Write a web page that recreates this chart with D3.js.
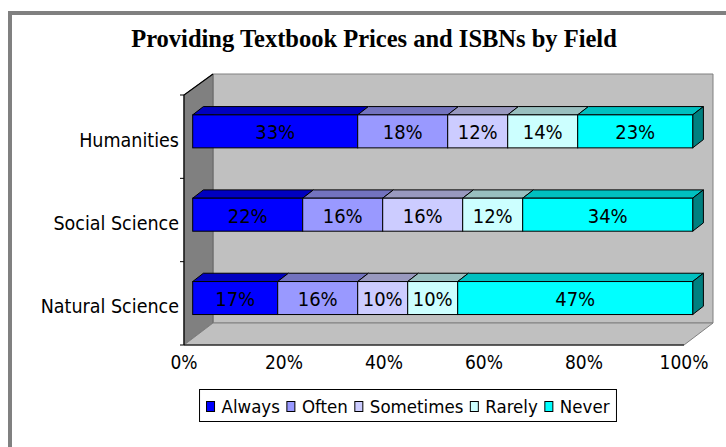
<!DOCTYPE html>
<html><head><meta charset="utf-8">
<script src="https://cdn.jsdelivr.net/npm/d3@7"></script>
<style>
html,body{margin:0;padding:0;background:#fff;}
svg{display:block;}
.sans{font-family:"DejaVu Sans Condensed","DejaVu Sans",sans-serif;font-stretch:condensed;}
</style></head>
<body>
<svg id="chart" width="726" height="447"></svg>
<script>
const title = "Providing Textbook Prices and ISBNs by Field";
const categories = ["Humanities", "Social Science", "Natural Science"];
const seriesNames = ["Always", "Often", "Sometimes", "Rarely", "Never"];
const always    = [33, 22, 17];
const often     = [18, 16, 16];
const sometimes = [12, 16, 10];
const rarely    = [14, 12, 10];
const never     = [23, 34, 47];
const tickValues = [0, 20, 40, 60, 80, 100];
const tickLabels = ["0%", "20%", "40%", "60%", "80%", "100%"];

const seriesValues = [always, often, sometimes, rarely, never];
const frontColors = ["#0000FF", "#9999FF", "#CCCCFF", "#CCFFFF", "#00FFFF"];
const topColors   = ["#0000C0", "#7373BF", "#9999BF", "#99BFBF", "#00C0C0"];
const sideColors  = ["#000080", "#4D4D80", "#666680", "#668080", "#008080"];

const svg = d3.select("#chart");

// outer chart frame (extends past image bottom/right)
svg.append("rect").attr("x", 10).attr("y", 13).attr("width", 760).attr("height", 480)
  .attr("fill", "#fff").attr("stroke", "#808080").attr("stroke-width", 4);

// title
svg.append("text").attr("x", 374).attr("y", 47).attr("text-anchor", "middle")
  .attr("font-family", "'Liberation Serif','Times New Roman',serif")
  .attr("font-weight", "bold").attr("font-size", 24.5).attr("fill", "#000").text(title);

// geometry of the 3D plot
const x0 = 184, x1 = 684, yTop = 95, yBot = 345;
const dX = 29, dY = 21;                 // wall depth
const bOffX = 8.7, bOffY = 5.3;         // bar front offset
const bDX = 10.7, bDY = 8.3;            // bar depth

const x = d3.scaleLinear().domain([0, 100]).range([x0, x1]);
const y = d3.scaleBand().domain(categories).range([yTop, yBot])
  .paddingInner(0.604).paddingOuter(0.302);

const line = d3.line();
// back wall
svg.append("path").attr("d", line([[x0+dX, yTop-dY], [x1+dX, yTop-dY], [x1+dX, yBot-dY-1], [x0+dX, yBot-dY-1]]) + "Z")
  .attr("fill", "#C0C0C0").attr("stroke", "#808080").attr("stroke-width", 1);
// left wall
svg.append("path").attr("d", line([[x0, yTop], [x0+dX, yTop-dY], [x0+dX, yBot-dY-1], [x0, yBot]]) + "Z")
  .attr("fill", "#808080").attr("stroke", "#666").attr("stroke-width", 1);
// floor
svg.append("path").attr("d", line([[x0, yBot], [x0+dX, yBot-dY-1], [x1+dX, yBot-dY-1], [x1, yBot]]) + "Z")
  .attr("fill", "#C0C0C0").attr("stroke", "#808080").attr("stroke-width", 1);
// black axis edges
svg.append("path").attr("d", line([[x0, yBot], [x0, yTop], [x0+dX, yTop-dY]]))
  .attr("fill", "none").attr("stroke", "#000").attr("stroke-width", 1.2);
svg.append("path").attr("d", line([[x0, yBot], [x1, yBot]]))
  .attr("fill", "none").attr("stroke", "#000").attr("stroke-width", 1.2);

// category ticks
svg.append("g").selectAll("line").data(d3.range(categories.length + 1).map(i => yTop + i * y.step())).join("line")
  .attr("x1", x0 - 4).attr("x2", x0).attr("y1", d => d).attr("y2", d => d)
  .attr("stroke", "#000").attr("stroke-width", 1);
// value tick labels
svg.append("g").attr("class", "sans").selectAll("text").data(tickValues).join("text")
  .attr("x", d => x(d)).attr("y", 369).attr("text-anchor", "middle")
  .attr("font-size", 19).attr("fill", "#000").text((d, i) => tickLabels[i]);

// category labels
svg.append("g").attr("class", "sans").selectAll("text").data(categories).join("text")
  .attr("x", x0 - 5).attr("y", d => y(d) + y.bandwidth() / 2 + 10).attr("text-anchor", "end")
  .attr("font-size", 19.5).attr("fill", "#000").text(d => d);

// stacked bars
const rows = categories.map((c, i) => {
  const obj = { cat: c };
  seriesNames.forEach((s, k) => obj[s] = seriesValues[k][i]);
  return obj;
});
const stack = d3.stack().keys(seriesNames)(rows);

const barsG = svg.append("g");
categories.forEach((c, ci) => {
  const yf = y(c) - bOffY, hb = y.bandwidth();
  stack.forEach((layer, k) => {
    const d = layer[ci];
    const xa = x(d[0]) + bOffX, xb = x(d[1]) + bOffX;
    barsG.append("path").attr("d", line([[xa, yf], [xb, yf], [xb + bDX, yf - bDY], [xa + bDX, yf - bDY]]) + "Z")
      .attr("fill", topColors[k]).attr("stroke", "#000").attr("stroke-width", 1).attr("stroke-linejoin", "round");
    if (k === seriesNames.length - 1) {
      barsG.append("path").attr("d", line([[xb, yf], [xb + bDX, yf - bDY], [xb + bDX, yf + hb - bDY], [xb, yf + hb]]) + "Z")
        .attr("fill", sideColors[k]).attr("stroke", "#000").attr("stroke-width", 1).attr("stroke-linejoin", "round");
    }
    barsG.append("rect").attr("x", xa).attr("y", yf).attr("width", xb - xa).attr("height", hb)
      .attr("fill", frontColors[k]).attr("stroke", "#000").attr("stroke-width", 1);
    barsG.append("text").attr("class", "sans").attr("x", (xa + xb) / 2).attr("y", yf + hb / 2 + 8)
      .attr("text-anchor", "middle").attr("font-size", 20).attr("fill", "#000")
      .text(d3.format("d")(d[1] - d[0]) + "%");
  });
});

// legend
const lg = svg.append("g").attr("class", "sans");
const box = lg.append("rect").attr("y", 389.5).attr("height", 32).attr("fill", "#fff")
  .attr("stroke", "#000").attr("stroke-width", 1);
let cx = 0;
const items = [];
seriesNames.forEach((s, k) => {
  const m = lg.append("rect").attr("y", 401.5).attr("width", 8).attr("height", 10)
    .attr("fill", frontColors[k]).attr("stroke", "#000").attr("stroke-width", 1);
  const t = lg.append("text").attr("y", 413).attr("font-size", 18.5).attr("fill", "#000").text(s);
  const tw = t.node().getComputedTextLength();
  items.push({ m, t, off: cx });
  cx += 15 + tw + (k < seriesNames.length - 1 ? 7 : 0);
});
const startX = 408 - cx / 2;
items.forEach(it => { it.m.attr("x", startX + it.off); it.t.attr("x", startX + it.off + 15); });
box.attr("x", startX - 7).attr("width", cx + 14);
</script>
</body></html>
